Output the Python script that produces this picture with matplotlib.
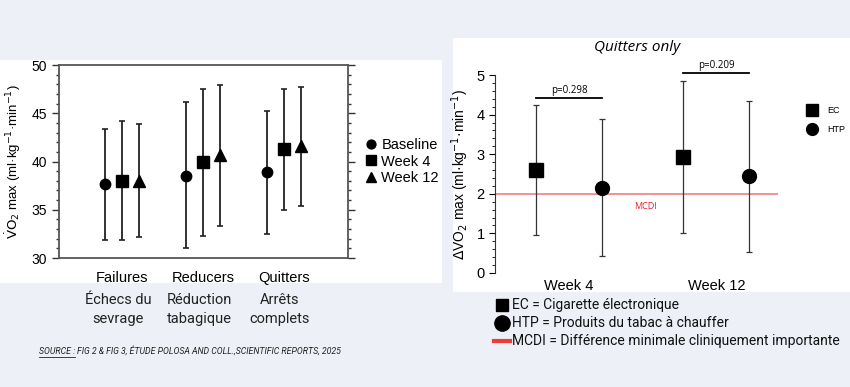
import matplotlib.pyplot as plt
import numpy as np
from matplotlib.patches import Rectangle
from matplotlib.lines import Line2D
from matplotlib.ticker import MultipleLocator

BG = "#edf1f7"

# left chart: VO2 max by group
groups = ["Failures", "Reducers", "Quitters"]
groups_fr = ["Échecs du\nsevrage", "Réduction\ntabagique", "Arrêts\ncomplets"]
timepoints = ["Baseline", "Week 4", "Week 12"]
vo2_mean = [[37.62, 38.55, 38.87],
            [37.96, 39.90, 41.25],
            [37.99, 40.66, 41.63]]
vo2_low = [[31.87, 31.04, 32.49],
           [31.87, 32.29, 34.95],
           [32.18, 33.33, 35.40]]
vo2_high = [[43.36, 46.17, 45.23],
            [44.20, 47.52, 47.52],
            [43.92, 47.97, 47.76]]

# right chart: delta VO2 max, quitters only
weeks = ["Week 4", "Week 12"]
products = ["EC", "HTP"]
delta_mean = [[2.59, 2.93], [2.14, 2.44]]
delta_low = [[0.96, 1.02], [0.43, 0.54]]
delta_high = [[4.23, 4.86], [3.88, 4.34]]
p_values = ["p=0.298", "p=0.209"]
p_heights = [4.41, 5.04]
mcdi = 2.0

plt.rcParams["font.family"] = ["Liberation Sans", "DejaVu Sans"]
fig = plt.figure(figsize=(8.5, 3.87), dpi=100)
fig.patch.set_facecolor(BG)

# white panels behind the two charts
fig.add_artist(Rectangle((0, 0.2687), 0.52, 0.576, transform=fig.transFigure,
                         facecolor="white", edgecolor="none", zorder=0))
fig.add_artist(Rectangle((0.533, 0.2455), 0.467, 0.656, transform=fig.transFigure,
                         facecolor="white", edgecolor="none", zorder=0))

# ---------------- left chart
axis = fig.add_axes([0.0694, 0.3333, 0.34, 0.4987])
axis.set_facecolor("none")
markers = ["o", "s", "^"]
msizes = [7.5, 9, 8.5]
offsets = [-0.21, 0, 0.21]
x = np.arange(1, len(groups) + 1)
handles = []
for i, tp in enumerate(timepoints):
    mean = np.array(vo2_mean[i])
    low = mean - np.array(vo2_low[i])
    high = np.array(vo2_high[i]) - mean
    axis.errorbar(x + offsets[i], mean, yerr=[low, high], fmt=markers[i],
                  ms=msizes[i], color="black", ecolor="#222222", elinewidth=1.3,
                  capsize=2.5, capthick=1.2)
    handles.append(Line2D([], [], marker=markers[i], ls="none", color="black",
                          ms=msizes[i] * 0.85, label=tp))
axis.set_xlim(0.22, 3.79)
axis.set_ylim(30, 50)
axis.yaxis.set_major_locator(MultipleLocator(5))
axis.yaxis.set_minor_locator(MultipleLocator(1))
axis.tick_params(axis="y", which="both", left=True, right=True, direction="out",
                 labelsize=10, colors="#333333", labelcolor="black")
axis.tick_params(axis="y", which="major", length=5, width=1)
axis.tick_params(axis="y", which="minor", length=2.5, width=1)
axis.tick_params(axis="x", length=0, labelsize=10.5, pad=9)
axis.set_xticks(x)
axis.set_xticklabels(groups)
for spine in axis.spines.values():
    spine.set_color("#555555")
    spine.set_linewidth(1.3)
axis.set_ylabel(r"$\dot{\mathrm{V}}\mathrm{O}_2$ max (ml·kg$^{-1}$·min$^{-1}$)",
                fontsize=9.5, labelpad=6)
axis.legend(handles=handles, loc="center left", bbox_to_anchor=(1.03, 0.5),
            frameon=False, fontsize=10.5, handletextpad=0.1, labelspacing=0.15,
            handlelength=1.2, borderaxespad=0)

for xi, label in zip(x, groups_fr):
    axis.text(xi - 0.05, -0.18, label, transform=axis.get_xaxis_transform(),
              ha="center", va="top", fontsize=10.5, family="Roboto",
              linespacing=1.45, color="#222222")

# ---------------- right chart
ax2 = fig.add_axes([0.5824, 0.2946, 0.333, 0.5116])
ax2.set_facecolor("none")
xw = np.arange(len(weeks))
right_markers = ["s", "o"]
right_sizes = [10.5, 10]
right_offsets = [-0.225, 0.225]
handles2 = []
for j, prod in enumerate(products):
    mean = np.array(delta_mean[j])
    low = mean - np.array(delta_low[j])
    high = np.array(delta_high[j]) - mean
    ax2.errorbar(xw + right_offsets[j], mean, yerr=[low, high], fmt=right_markers[j],
                 ms=right_sizes[j], color="black", ecolor="#333333", elinewidth=0.9,
                 capsize=2.5, capthick=0.9)
    handles2.append(Line2D([], [], marker=right_markers[j], ls="none", color="black",
                           ms=right_sizes[j] * 0.85, label=prod))
ax2.axhline(mcdi, color="#f08a8a", lw=1.3, zorder=0)
ax2.text(0.52, mcdi - 0.32, "MCDI", color="#e8202a", fontsize=6.5, ha="center",
         va="center", family="Open Sans")
for k, (ptxt, ph) in enumerate(zip(p_values, p_heights)):
    ax2.plot([xw[k] - 0.225, xw[k] + 0.225], [ph, ph], color="black", lw=1.3,
             clip_on=False)
    ax2.text(xw[k], ph + 0.06, ptxt, ha="center", va="bottom", fontsize=7,
             family="Open Sans", clip_on=False)
ax2.set_xlim(-0.503, 1.42)
ax2.set_ylim(0, 5)
ax2.set_xticks(xw)
ax2.set_xticklabels(weeks)
ax2.tick_params(axis="x", length=0, labelsize=10.5, pad=4)
ax2.yaxis.set_major_locator(MultipleLocator(1))
ax2.yaxis.set_minor_locator(MultipleLocator(0.2))
ax2.tick_params(axis="y", which="major", length=4, width=0.8, labelsize=10.5)
ax2.tick_params(axis="y", which="minor", length=2, width=0.6)
for side in ["top", "right", "bottom"]:
    ax2.spines[side].set_visible(False)
ax2.spines["left"].set_linewidth(0.8)
ax2.spines["left"].set_color("#333333")
ax2.set_ylabel(r"$\Delta$VO$_2$ max (ml·kg$^{-1}$·min$^{-1}$)", fontsize=10,
               labelpad=4)
ax2.set_title("Quitters only", fontsize=11, style="italic", family="Open Sans",
              pad=17)
ax2.legend(handles=handles2, loc="upper left", bbox_to_anchor=(1.09, 0.86),
           frameon=False, fontsize=6.5, handletextpad=1.2, labelspacing=1.1,
           handlelength=1, borderaxespad=0)

# key below the right chart
key_x = 0.59
key_rows = [0.212, 0.165, 0.119]
key_labels = ["EC = Cigarette électronique",
              "HTP = Produits du tabac à chauffer",
              "MCDI = Différence minimale cliniquement importante"]
fig.add_artist(Line2D([key_x], [key_rows[0]], marker="s", ms=8, color="black",
                      transform=fig.transFigure))
fig.add_artist(Line2D([key_x], [key_rows[1]], marker="o", ms=11, color="black",
                      transform=fig.transFigure))
fig.add_artist(Line2D([0.581, 0.6], [key_rows[2], key_rows[2]], color="#ef3b3b",
                      lw=3, transform=fig.transFigure))
for yk, label in zip(key_rows, key_labels):
    fig.text(0.602, yk, label, fontsize=10, family="Roboto", va="center",
             color="#111111")

# source line
src = fig.text(0.046, 0.085, "SOURCE :", fontsize=6.3, family="Roboto",
               style="italic", va="baseline", color="#222222")
fig.text(0.0905, 0.085, "FIG 2 & FIG 3, ÉTUDE POLOSA AND COLL.,SCIENTIFIC REPORTS, 2025",
         fontsize=6.3, family="Roboto", style="italic", va="baseline", color="#222222")
fig.canvas.draw()
bb = src.get_window_extent().transformed(fig.transFigure.inverted())
fig.add_artist(Line2D([bb.x0, bb.x1], [0.078, 0.078], color="#222222", lw=0.6,
                      transform=fig.transFigure))

fig.savefig("out.png", dpi=100, facecolor=fig.get_facecolor())
